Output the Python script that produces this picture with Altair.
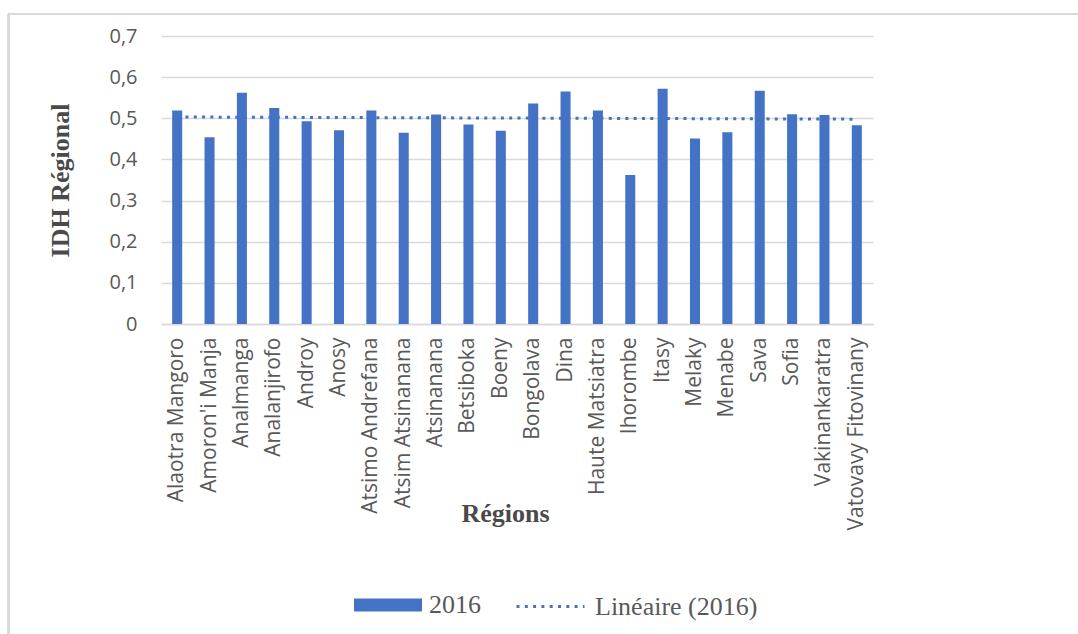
import altair as alt
import pandas as pd

regions = ["Alaotra Mangoro", "Amoron'i Manja", "Analmanga", "Analanjirofo", "Androy",
           "Anosy", "Atsimo Andrefana", "Atsim Atsinanana", "Atsinanana", "Betsiboka",
           "Boeny", "Bongolava", "Dina", "Haute Matsiatra", "Ihorombe", "Itasy",
           "Melaky", "Menabe", "Sava", "Sofia", "Vakinankaratra", "Vatovavy Fitovinany"]
values = [0.519, 0.454, 0.562, 0.525, 0.493, 0.471, 0.519, 0.465, 0.509, 0.485,
          0.470, 0.536, 0.565, 0.519, 0.362, 0.572, 0.451, 0.466, 0.567, 0.510,
          0.508, 0.483]
y_ticks = [0, 0.1, 0.2, 0.3, 0.4, 0.5, 0.6, 0.7]
series_name = "2016"
trend_name = "Linéaire (2016)"

df = pd.DataFrame({
    "region": regions,
    "value": values,
    "idx": list(range(1, len(regions) + 1)),
    "series": [series_name] * len(regions),
})

BLUE = "#4472C4"
GRID = "#D9D9D9"
LABEL = "#595959"
TITLE = "#4A4A4A"

x_enc = alt.X(
    "region:N",
    sort=regions,
    scale=alt.Scale(paddingInner=0.69, paddingOuter=0.345),
    axis=alt.Axis(
        title="Régions",
        labelAngle=-90,
        labelFont="Open Sans",
        labelFontSize=21,
        labelColor=LABEL,
        labelPadding=13,
        ticks=False,
        domainColor=GRID,
        domainWidth=1.3,
        titleFont="Liberation Serif",
        titleFontSize=26,
        titleFontWeight="bold",
        titleColor=TITLE,
        titleBaseline="alphabetic",
        titleX=344,
        titleY=197,
        labelLimit=400,
    ),
)

y_enc = alt.Y(
    "value:Q",
    scale=alt.Scale(domain=[0, 0.7], nice=False),
    axis=alt.Axis(
        title="IDH Régional",
        values=y_ticks,
        labelExpr="datum.value == 0 ? '0' : replace(format(datum.value, '.1f'), '.', ',')",
        labelFont="Open Sans",
        labelFontSize=20,
        labelColor=LABEL,
        labelPadding=24,
        ticks=False,
        domain=False,
        gridColor=GRID,
        gridWidth=1.3,
        titleFont="Liberation Serif",
        titleFontSize=26,
        titleFontWeight="bold",
        titleColor=TITLE,
        titleBaseline="alphabetic",
        titleAngle=270,
        titleX=-93,
        titleY=144,
    ),
)

bars = alt.Chart(df).mark_bar(color=BLUE).encode(
    x=x_enc,
    y=y_enc,
    color=alt.Color(
        "series:N",
        scale=alt.Scale(range=[BLUE]),
        legend=alt.Legend(
            title=None,
            orient="none",
            legendX=193,
            legendY=535,
            symbolType="M-1,-0.19H1V0.19H-1Z",
            symbolSize=4624,
            symbolStrokeWidth=0,
            symbolFillColor=BLUE,
            labelFont="Liberation Serif",
            labelFontSize=26,
            labelColor=LABEL,
            labelOffset=7,
            labelLimit=400,
            padding=0,
        ),
    ),
)

lookup_df = df[["idx", "region"]]

trend = (
    alt.Chart(df)
    .transform_regression("idx", "value", method="linear")
    .transform_lookup(lookup="idx", from_=alt.LookupData(data=lookup_df, key="idx", fields=["region"]))
    .transform_calculate(trend=f"'{trend_name}'")
    .mark_line(color=BLUE, strokeWidth=3)
    .encode(
        x=alt.X("region:N", sort=regions),
        y=alt.Y("value:Q"),
        strokeDash=alt.StrokeDash(
            "trend:N",
            scale=alt.Scale(range=[[3, 5.3]]),
            legend=alt.Legend(
                title=None,
                orient="none",
                legendX=354,
                legendY=535,
                symbolType="stroke",
                symbolSize=4624,
                symbolStrokeWidth=3,
                symbolStrokeColor=BLUE,
                labelFont="Liberation Serif",
                labelFontSize=26,
                labelColor=LABEL,
                labelOffset=9,
                labelLimit=400,
                padding=0,
            ),
        ),
    )
)

frame_left = alt.Chart(df).mark_rule(color=GRID, strokeWidth=1.5).encode(
    x=alt.value(-152.5), y=alt.value(-22), y2=alt.value(600)
)
frame_top = alt.Chart(df).mark_rule(color=GRID, strokeWidth=1.5).encode(
    x=alt.value(-153), x2=alt.value(920), y=alt.value(-22)
)

chart = (
    alt.layer(bars, trend, frame_left, frame_top)
    .properties(
        width=712,
        height=288,
        autosize=alt.AutoSizeParams(type="none"),
        padding={"left": 161, "top": 36, "right": 205, "bottom": 310},
        background="white",
    )
    .configure_view(stroke=None)
    .resolve_legend(color="independent", strokeDash="independent")
)

chart.save("out.html", embed_options={"renderer": "svg", "actions": False})
